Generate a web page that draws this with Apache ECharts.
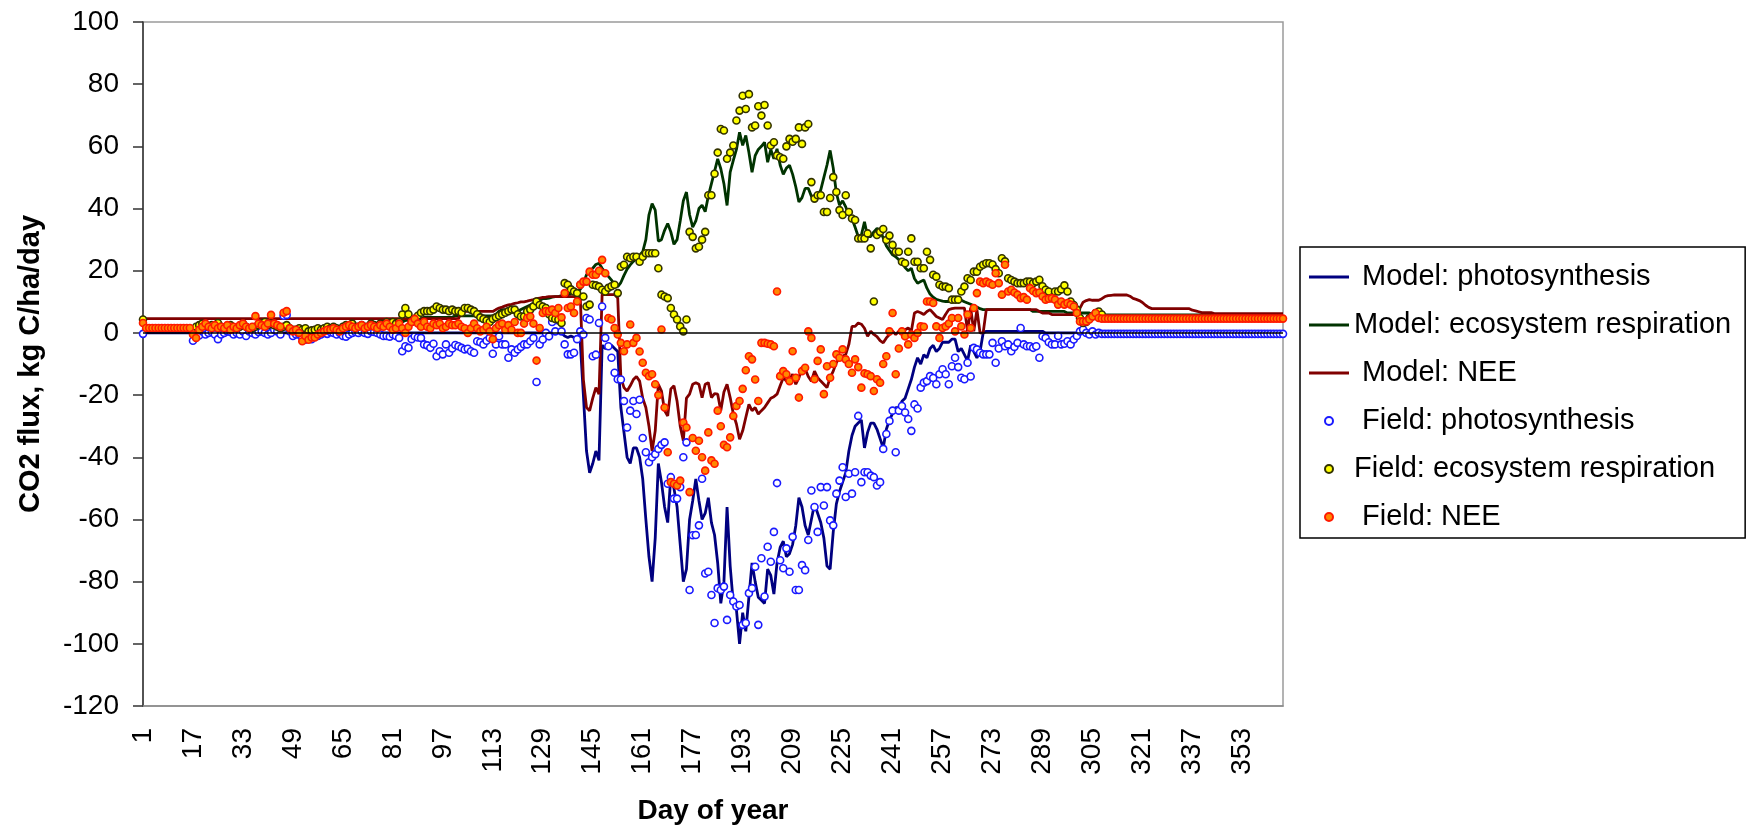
<!DOCTYPE html>
<html>
<head>
<meta charset="utf-8">
<script src="https://cdn.jsdelivr.net/npm/echarts@6/dist/echarts.min.js"></script>
<style>
    html, body { margin: 0; padding: 0; background: #fff; }
    #chart { width: 1752px; height: 830px; }
</style>
</head>
<body>
<div id="chart"></div>
<script>
// day of year, 1..366
const days = Array.from({ length: 366 }, (_, i) => i + 1);

const yTicks = { min: -120, max: 100, interval: 20 };

// model curves, one value per day
const modelPhoto = [
    0,0,0,0,0,0,0,0,0,0, 0,0,0,0,0,0,0,0,0,0,            // 1-20
    0,0,0,0,0,0,0,0,0,0, 0,0,0,0,0,0,0,0,0,0,            // 21-40
    0,0,0,0,0,0,0,0,0,0, 0,0,0,0,0,0,0,0,0,0,            // 41-60
    0,0,0,0,0,0,0,0,0,0, 0,0,0,0,0,0,0,0,0,0,            // 61-80
    0,0,0,0,0,0,0,0,0,0, 0,0,0,0,0,0,0,0,0,0,            // 81-100
    0,0,0,0,0,0,0,0,0,0, 0,0,0,0,0,0,0,0,0,0,            // 101-120
    0,0,0,0,0,0,0,0,0,0,                                 // 121-130
    0,0,0,0,0,-1,-1.5,-1,-1.5,-2,                        // 131-140
    -3,-20,-38,-45,-42,-38,-41,-4,-5,-5,                 // 141-150
    -4,-5,-6,-24,-32,-40,-42,-37,-37,-40,                // 151-160
    -47,-60,-72,-80,-66,-42,-48,-56,-61,-46,             // 161-170
    -50,-56,-68,-80,-76,-60,-54,-47,-54,-60,             // 171-180
    -58,-53,-61,-65,-74,-87,-80,-56,-75,-87,             // 181-190
    -89,-100,-90,-96,-85,-74,-80,-85,-86,-87,            // 191-200
    -76,-78,-84,-74,-69,-67,-72,-71,-68,-62,             // 201-210
    -53,-56,-62,-65,-60,-55,-58,-61,-66,-75,             // 211-220
    -76,-64,-55,-51,-48,-45,-38,-33,-30,-29,             // 221-230
    -28,-37,-32,-29,-29,-31,-34,-37,-31,-28,             // 231-240
    -26,-24,-24,-22,-21,-18,-15,-11,-8,-10,              // 241-250
    -7,-8,-5,-4,-6,-5,-3,-3,-3,-2,                       // 251-260
    -2,-6,-5,-7,-9,-4,-6,-8,-6,0,                        // 261-270
    0.5,0.5,0.5,0.5,0.5,0.5,0.5,0.5,0.5,0.5,             // 271-280
    0.5,0.5,0.5,0.5,0.5,0.5,0.5,0.5,0.5,0,               // 281-290
    0,0,0,0,0,0,0,0,0,0, 0,0,0,0,0,0,0,0,0,0,            // 291-310
    0,0,0,0,0,0,0,0,0,0, 0,0,0,0,0,0,0,0,0,0,            // 311-330
    0,0,0,0,0,0,0,0,0,0, 0,0,0,0,0,0,0,0,0,0,            // 331-350
    0,0,0,0,0,0,0,0,0,0, 0,0,0,0,0,0                     // 351-366
];

const modelResp = [
    1,1,1,1,1,1,1,1,1,1,                                 // 1-10
    1,1,1,1,1,1,1.5,2,2,2.5,                             // 11-20
    2.5,2,2,2,2.5,2,2,1.5,2,2,                           // 21-30
    2,2,2.5,2,2,1.5,2,2,2.5,2.5,                         // 31-40
    2.5,2.5,2,2,2,1.5,1.5,1.5,1.5,1.5,                   // 41-50
    1,1,1,1,1,1,1,1.5,1.5,1.5,                           // 51-60
    1.5,1.5,1.5,1.5,1.5,2,2,2,2,2,                       // 61-70
    2,2,2,2,2,2.5,2.5,2.5,2.5,2.5,                       // 71-80
    2.5,3,3,3.5,4,4,4,4.5,4.5,4.5,                       // 81-90
    5,5,5,5,5,5,5,5,5,5,                                 // 91-100
    5.5,5.5,5.5,5.5,5.5,5.5,5.5,5.5,5.5,5.5,             // 101-110
    5.5,5.5,5.5,6,7,7.5,7.5,7,7,6.5,                     // 111-120
    7,7.5,8,8.5,9,9.5,10,10.5,11,11,                     // 121-130
    11.2,11.5,11.7,11.7,12,12,12.3,12.5,13,13.3,         // 131-140
    14,16,18.7,20,20.8,22,22.4,20.8,19.5,18.2,           // 141-150
    17,15.5,14.9,16.2,18.5,20.5,21.9,23,24,25,           // 151-160
    26.1,30,38,41.6,39.5,29.5,30,33,35.2,32.5,           // 161-170
    28.5,30,36,42.5,45.3,38,34,36,40,41.1,               // 171-180
    39,44,48,52,56,52.8,48,41,51.7,55.5,                 // 181-190
    59,64.5,60.3,63.5,58,51.7,57,59,60,61.3,             // 191-200
    54.9,59,56,59.2,54,51,53,53.9,51,47,                 // 201-210
    42.1,43.5,46.5,46.5,44,42.5,44,46,50,54,             // 211-220
    58.7,53,45,41.1,42.5,40.5,38,36.8,34,31,             // 221-230
    31.5,35.7,31,31,32.5,33.6,33,30.5,28,26.5,           // 231-240
    25.1,24.5,23.5,22.9,21,20,20.8,17.5,16,16.5,         // 241-250
    17,14.4,12.5,11.5,10.8,10.5,10.2,10.1,10.1,10.1,     // 251-260
    10.3,10.6,10.5,10,9.6,9.2,8.7,8.3,7.8,7.5,           // 261-270
    7.5,7.5,7.5,7.5,7.5,7.5,7.5,7.5,7.5,7.5,             // 271-280
    7.5,7.5,7.5,7.5,7.5,6.9,6.9,6.9,6.9,6.9,             // 281-290
    6.9,6.9,6.9,6.9,6.9,6.9,6.4,6.4,6.4,6.4,             // 291-300
    6.4,6.4,6.4,6.4,5.8,5.8,5.8,5.8,5.8,5.8,             // 301-310
    5.8,5.8,5.8,5.8,5.8,5.8,5.8,5.8,5.8,5.8,             // 311-320
    5.8,5.8,5.8,5.8,5.8,5.8,5.8,5.8,5.8,5.8,             // 321-330
    5.8,5.8,5.8,5.8,5.8,5.8,5.8,5.8,5.8,5.8,             // 331-340
    5.8,5.8,5.8,5.8,5.8,5.8,5.8,5.8,5.8,5.8,             // 341-350
    5.8,5.8,5.8,5.8,5.8,5.8,5.8,5.8,5.8,5.8,             // 351-360
    5.8,5.8,5.8,5.8,5.8,5.8                              // 361-366
];

const modelNee = [
    4.6,4.6,4.6,4.6,4.6,4.6,4.6,4.6,4.6,4.6,             // 1-10
    4.6,4.6,4.6,4.6,4.6,4.6,4.6,4.6,4.6,4.6,             // 11-20
    4.6,4.6,4.6,4.6,4.6,4.6,4.6,4.6,4.6,4.6,             // 21-30
    4.6,4.6,4.6,4.6,4.6,4.6,4.6,4.6,4.6,4.6,             // 31-40
    4.6,4.6,4.6,4.6,4.6,4.6,4.6,4.6,4.6,4.6,             // 41-50
    4.6,4.6,4.6,4.6,4.6,4.6,4.6,4.6,4.6,4.6,             // 51-60
    4.6,4.6,4.6,4.6,4.6,4.6,4.6,4.6,4.6,4.6,             // 61-70
    4.6,4.6,4.6,4.6,4.6,4.6,4.6,4.6,4.6,4.6,             // 71-80
    4.6,4.6,4.6,4.6,4.6,4.6,4.6,4.6,4.6,4.6,             // 81-90
    4.6,4.6,4.6,4.6,4.6,4.6,4.6,4.6,4.6,4.6,             // 91-100
    4.6,4.6,6.9,6.9,6.9,6.9,6.9,6.9,6.9,6.9,             // 101-110
    6.9,6.9,6.9,7.5,8,8.3,8.7,9,9.2,9.5,                 // 111-120
    9.7,10,10,10.2,10.5,10.7,11,11.2,11.4,11.5,          // 121-130
    11.7,11.7,11.7,11.7,11.7,11.7,11.7,11.7,11.7,11.5,   // 131-140
    11.7,-15,-24,-25,-21,-17.6,-19.7,12.3,12.3,12.3,     // 141-150
    12.3,12.3,11.2,-14.4,-17.6,-18.7,-17,-15,-14,-15.5,  // 151-160
    -21,-24,-30,-38,-31.5,-16.5,-18.7,-25,-26.7,-18,     // 161-170
    -17,-22,-30,-34.7,-21,-19.7,-16.5,-16,-16.5,-20.8,   // 171-180
    -16.5,-16,-20.8,-19.5,-19.7,-25,-19,-16.5,-20.8,-26, // 181-190
    -29.3,-34.2,-31.5,-27.2,-23,-25,-24,-26.1,-25,-24,   // 191-200
    -22.5,-21,-20.5,-19.7,-17,-14.4,-15.5,-15,-13.3,-16.5, // 201-210
    -14.5,-11,-11.5,-14,-15.5,-12.3,-14.4,-15.5,-16.5,-17.6, // 211-220
    -14.4,-12.3,-9.5,-8.2,-7.5,-6.9,-3.7,2.1,2.1,3.2,    // 221-230
    2.8,1.5,-1.1,0.5,-0.5,-1.2,-2.5,-3.2,-1.6,-0.5,      // 231-240
    0.5,-0.5,0.5,0.5,1,1.6,0.5,6.4,6.9,6.5,              // 241-250
    5.9,6.9,7.5,6.4,5.3,4.8,4.3,6,7.5,7.8,               // 251-260
    8,8,8,8,0.5,8,0.5,7.5,0,0,                           // 261-270
    7.5,7.5,7.5,7.5,7.5,7.5,7.5,7.5,7.5,7.5,             // 271-280
    7.5,7.5,7.5,7.5,7.5,7.5,7.5,6.9,6.4,6.4,             // 281-290
    6.4,5.9,5.9,5.9,5.9,5.9,5.9,5.9,5.9,5.9,             // 291-300
    8,9.9,10.4,10.7,10.5,10.5,10.5,11,11.7,12,           // 301-310
    12.1,12.2,12.2,12.2,12.2,12.2,11.8,11.1,10.8,10.4,   // 311-320
    9.8,8.9,8.2,7.8,7.8,7.8,7.8,7.8,7.8,7.8,             // 321-330
    7.8,7.8,7.8,7.8,7.8,7.8,7.3,7.1,6.8,6.5,             // 331-340
    6.5,6.5,6.5,6.2,6.2,6.2,6.2,6.2,6.2,6.2,             // 341-350
    6.2,6.2,6.2,6.2,6.2,6.2,6.2,6.2,6.2,6.2,             // 351-360
    6.2,6.2,6.2,6.2,6.2,6.2                              // 361-366
];

// field measurements (null = no point drawn)
const fieldPhoto = [
    -0.3,null,null,null,null,null,null,null,null,null,   // 1-10
    null,null,null,null,null,null,-2.5,-1.5,-0.8,0.5,    // 11-20
    -0.5,0,0.3,-0.5,-2,-0.5,0,0.5,0.3,-0.5,              // 21-30
    0,-0.5,0.5,-1,0.5,0,-0.5,0.3,0.5,0,                  // 31-40
    -0.5,0,1,0.5,-0.5,5.5,5.8,0.5,-1,-0.5,               // 41-50
    -0.5,-1.6,-2.2,-1.5,-2,-1.2,-1,-0.5,0,-0.3,          // 51-60
    0.3,0,-0.5,0,-1,-1.2,-0.5,0,0.3,0,                   // 61-70
    0.5,0,-0.3,0.5,0.3,0,-0.5,-1,-1,-1.2,                // 71-80
    -0.5,-1,-1.6,-5.9,-4.3,-4.8,-2,-1.1,-1.5,-1.6,       // 81-90
    -3.7,-4,-4.8,-3.5,-7.5,-5.9,-6.9,-3.7,-6.4,-5,       // 91-100
    -3.9,-4.3,-4.8,-5.3,-5.1,-5.9,-6.4,-2.7,-3,-3.7,     // 101-110
    -2.5,-1.6,-6.7,-3.7,-1.1,-3.7,-3.7,-8,-5.3,-6.4,     // 111-120
    -5.3,-4.5,-3.7,-3.7,-2.7,-1.6,-15.8,-3.7,-2.1,0,     // 121-130
    -1.1,3.5,0.5,4,0.5,-3.7,-6.9,-6.9,-6.4,-2,           // 131-140
    0.5,-0.5,4.8,4.3,-7.5,-7,3.2,8.5,-1.6,-4.3,          // 141-150
    -8,-12.8,-14.9,-15,-21.9,-30.4,-25,-21.9,-26.1,-21.5, // 151-160
    -33.8,-38.4,-41.6,-40,-39,-37.3,-36,-35.2,-48.5,-46.4, // 161-170
    -53.3,-53.3,-49.6,-40,-35.2,-82.7,-65.1,-65,-61.9,-46.9, // 171-180
    -77.4,-76.8,-84.3,-93.3,-82.1,-82.7,-81.6,-92.3,-84.3,-86.4, // 181-190
    -88,-87.5,-93.9,-93.3,-83.7,-82.1,-75.2,-93.9,-72.5,-84.8, // 191-200
    -68.8,-73.6,-64,-48.3,-73.1,-75.7,-69.3,-76.8,-65.6,-82.7, // 201-210
    -82.7,-74.7,-76.3,-66.6,-50.7,-56,-64,-49.6,-55.5,-49.6, // 211-220
    -60.3,-61.9,-51.7,-47.5,-43.2,-52.8,-45.3,-51.7,-44.8,-26.7, // 221-230
    -48,-44.8,-44.8,-45.9,-46.4,-49.1,-48,-37.3,-32.5,-28.3, // 231-240
    -25,-38.4,-25,-23.5,-25.6,-27.7,-31.5,-23,-24.3,-17.6, // 241-250
    -16,-15.5,-13.9,-14.5,-16.5,-13.3,-11.7,-13.3,-16.5,-10.7, // 251-260
    -8,-11,-14.4,-14.9,-9.6,-14,-4.8,-5.3,-6.4,-6.9,     // 261-270
    -6.9,-6.9,-3.2,-9.6,-5,-2.7,-4.3,-3.7,-5.9,-4.5,     // 271-280
    -3.2,1.6,-3.7,-4.3,-4.3,-4.8,-4.3,-8,-1.1,-1.6,      // 281-290
    -3,-3.7,-3.7,-1,-3.7,-3.5,-2.7,-3.7,-2.1,-1,         // 291-300
    0.5,1.1,0,-0.5,0.5,-0.5,0,-0.3,-0.3,-0.3,            // 301-310
    -0.3,-0.3,-0.3,-0.3,-0.3,-0.3,-0.3,-0.3,-0.3,-0.3,   // 311-320
    -0.3,-0.3,-0.3,-0.3,-0.3,-0.3,-0.3,-0.3,-0.3,-0.3,   // 321-330
    -0.3,-0.3,-0.3,-0.3,-0.3,-0.3,-0.3,-0.3,-0.3,-0.3,   // 331-340
    -0.3,-0.3,-0.3,-0.3,-0.3,-0.3,-0.3,-0.3,-0.3,-0.3,   // 341-350
    -0.3,-0.3,-0.3,-0.3,-0.3,-0.3,-0.3,-0.3,-0.3,-0.3,   // 351-360
    -0.3,-0.3,-0.3,-0.3,-0.3,-0.3                        // 361-366
];

const fieldResp = [
    4.3,null,null,null,null,null,null,null,null,null,    // 1-10
    null,null,null,null,null,null,0.5,2,2.5,3,           // 11-20
    2.5,2,2.5,2,3.2,2,1.5,2,2.5,1.5,                     // 21-30
    1.5,2,3,2,1.5,1.5,2,2.5,3,3.5,                       // 31-40
    2.5,3,2.5,2,1.5,2,2.5,1.5,1,1,                       // 41-50
    1.5,1,1.5,0.5,0.8,1,1.5,1,1.5,2,                     // 51-60
    1.5,2,1.5,1,2,2.5,2,3,2,2,                           // 61-70
    2.5,2,2,3,2.5,2,3,2.5,3.5,3,                         // 71-80
    3.5,3,3.5,5.9,8,6,3.5,4.5,5.5,6.5,                   // 81-90
    7,7,7,7.5,8.5,8,7.5,7.5,7,7.5,                       // 91-100
    7,7,6.5,8,8,7.5,7,6,5,4.5,                           // 101-110
    4,3.5,4.5,5,5.5,6,6.5,7,7.5,7.5,                     // 111-120
    6,5.3,5.3,6.9,7.5,8.5,10.1,9,8.5,8,                  // 121-130
    6,4.8,4.5,4.3,3.2,16,15.5,14,13.3,12.8,              // 131-140
    15.5,11.7,8.5,9.1,15.5,15.3,14.9,13.9,13.3,14.5,     // 141-150
    15,15.5,12.8,21.3,21.9,24.5,24,24.5,24.5,22.9,       // 151-160
    24.5,25.6,25.6,25.6,25.6,20.8,12.3,11.7,11.2,8,      // 161-170
    5.9,4.3,2.1,0.5,4.3,32.5,30.9,27.2,27.7,30,          // 171-180
    32.5,44.3,44.3,51.2,58,65.6,65.1,56,58,60.3,         // 181-190
    68.3,71.5,76.3,72,76.8,66.1,66.7,72.9,69.9,73.3,     // 191-200
    66.7,60.3,61.3,57.1,56.5,56,60,62.4,61.5,62.4,       // 201-210
    66.1,60.8,66.1,67.2,48.5,43.2,44.3,44.3,38.9,38.9,   // 211-220
    43.4,50.1,45.3,39.5,37.9,44.3,38.9,36.8,36.3,30.4,   // 221-230
    30.4,30.4,32,27.2,10.1,31.5,32.5,33.4,29.9,31.3,     // 231-240
    28.3,26.1,26.1,22.9,22.4,26.1,30.4,22.9,22.9,20.8,   // 241-250
    20.8,26.1,23.5,18.7,18.1,15.5,14.9,14.9,14.4,10.7,   // 251-260
    10.7,10.7,13.3,14.9,17.6,17,19.7,19.7,21.3,21.9,     // 261-270
    22.4,22.4,22,20.5,19.2,24,23,17.6,17,16.5,           // 271-280
    16,16,16,16.5,16.5,16,16.5,17.1,15,13.9,             // 281-290
    13.3,11.2,13.3,13.3,14,15.3,13.3,10.1,9,7.5,         // 291-300
    4.8,3.2,3.5,4.8,5.3,6.4,6.9,5.9,null,null,           // 301-310
    null,null,null,null,null,null,null,null,null,null,   // 311-320
    null,null,null,null,null,null,null,null,null,null,   // 321-330
    null,null,null,null,null,null,null,null,null,null,   // 331-340
    null,null,null,null,null,null,null,null,null,null,   // 341-350
    null,null,null,null,null,null,null,null,null,null,   // 351-360
    null,null,null,null,null,null                        // 361-366
];

const fieldNee = [
    3.2,1.6,1.6,1.6,1.6,1.6,1.6,1.6,1.6,1.6,             // 1-10
    1.6,1.6,1.6,1.6,1.6,1.6,-0.5,-1.6,1,2,               // 11-20
    3,2,1.5,2.5,1.5,2,1.5,2.5,1,2,                       // 21-30
    1.5,2.5,3,2,1.5,2,5.4,3,2.5,2,                       // 31-40
    3,5.8,3,2.5,2,6.5,7,1.5,0.5,1,                       // 41-50
    0,-2.7,-1,-2.2,-1.5,-1.5,-0.5,0,0.5,1,               // 51-60
    1,1.5,1,0.5,1.5,2,2.5,2,1.5,2,                       // 61-70
    2.5,1.5,2,2.5,2,1.5,2.5,2,3,2,                       // 71-80
    1,1.5,3,1.5,0,2,3.5,4.5,3,2,                         // 81-90
    3.5,2,1.5,3,2.5,3,1.5,2,3,2.5,                       // 91-100
    2.5,3,2,1.5,0,1.5,3,1.5,0.5,1,                       // 101-110
    2,0.5,-2,1.5,2.5,3,1,2.5,1,3.5,                      // 111-120
    0,0,3,4.8,5.3,3,-8.9,1.6,6.4,7,                      // 121-130
    6.9,7.5,6.4,8,5,12.8,8,8.5,6.4,10.1,                 // 131-140
    15.5,16.5,16.5,19.7,18.7,18.7,20,23.5,19.2,4.8,      // 141-150
    4.3,1.6,-0.5,-3.2,-5.9,-3.7,2.7,-3.2,-1.6,-6,        // 151-160
    -9.6,-12.8,-13.9,-13.3,-16.5,-20,1.1,-24,-38.4,-48,  // 161-170
    -48.5,-49.1,-47.5,-28.8,-30.4,-51.2,-33.8,-37.9,-34.7,-40, // 171-180
    -44.3,-32,-41,-42.1,-25,-30,-36,-36.8,-33.6,-26.7,   // 181-190
    -23.5,-21.9,-18,-12,-7.5,-8.5,-15,-21.9,-3.2,-3.2,   // 191-200
    -3.5,-3.7,-4.3,13.3,-13.9,-12.3,-13.3,-15.5,-5.9,-14.4, // 201-210
    -20.8,-12.3,-11.2,0.5,-1.6,-14.9,-9,-5.3,-19.7,-10.7, // 211-220
    -14.4,-10,-6.9,-8,-5.3,-8.5,-10,-12.8,-8.5,-11,      // 221-230
    -17.6,-13,-13.3,-13.9,-18.7,-14.9,-16,-10,-7.5,0.5,  // 231-240
    6.4,-13.3,-5,0.5,-1.1,-3.7,-0.5,-1.6,0,2.1,          // 241-250
    2,10.1,10.1,9.6,2.1,-1.6,1.6,2.1,3,4.8,              // 251-260
    0.5,4.8,2.1,-0.5,5.9,1.6,8,12.8,16.5,16,             // 261-270
    16.5,16,15.5,19.2,16,12.3,21.9,13.3,13.9,13,         // 271-280
    12.3,11.2,11.5,10.7,14.4,13.5,12.8,13,11.7,10.7,     // 281-290
    11,11.2,10.7,9.1,10.1,9.1,9.6,9.1,8.5,6.4,           // 291-300
    3.7,3.7,3.7,4.3,5.3,6.4,4.8,4.6,4.6,4.6,             // 301-310
    4.6,4.6,4.6,4.6,4.6,4.6,4.6,4.6,4.6,4.6,             // 311-320
    4.6,4.6,4.6,4.6,4.6,4.6,4.6,4.6,4.6,4.6,             // 321-330
    4.6,4.6,4.6,4.6,4.6,4.6,4.6,4.6,4.6,4.6,             // 331-340
    4.6,4.6,4.6,4.6,4.6,4.6,4.6,4.6,4.6,4.6,             // 341-350
    4.6,4.6,4.6,4.6,4.6,4.6,4.6,4.6,4.6,4.6,             // 351-360
    4.6,4.6,4.6,4.6,4.6,4.6                              // 361-366
];

const seriesNames = [
    ' Model: photosynthesis',
    'Model: ecosystem respiration',
    ' Model: NEE',
    ' Field: photosynthesis',
    'Field: ecosystem respiration',
    ' Field: NEE',
];

const font = "'Liberation Sans', Arial, sans-serif";
const lineIcon = 'path://M0,0H40V3H0Z';

const chart = echarts.init(document.getElementById('chart'));

const modelLine = (name, data, color) => ({
    name,
    type: 'line',
    data,
    symbol: 'none',
    showSymbol: false,
    lineStyle: { color, width: 2.8 },
    itemStyle: { color },
    z: 2,
});

const fieldDots = (name, data, fill, border) => ({
    name,
    type: 'scatter',
    data,
    symbol: 'circle',
    symbolSize: 7,
    itemStyle: { color: fill, borderColor: border, borderWidth: 1.6, opacity: 1 },
    z: 3,
});

const option = {
    animation: false,
    backgroundColor: '#fff',
    textStyle: { fontFamily: font },
    grid: {
        left: 143,
        top: 22,
        right: 469,
        bottom: 121,
        show: true,
        borderColor: '#9a9a9a',
        borderWidth: 1.5,
        backgroundColor: '#fff',
    },
    legend: {
        orient: 'vertical',
        left: 1300,
        top: 247,
        padding: [15, 14, 6, 9],
        itemGap: 18,
        itemWidth: 40,
        itemHeight: 8,
        itemTextGap: 6,
        borderColor: '#000',
        borderWidth: 1.5,
        data: [
            { name: seriesNames[0], icon: lineIcon },
            { name: seriesNames[1], icon: lineIcon },
            { name: seriesNames[2], icon: lineIcon },
            { name: seriesNames[3], icon: 'circle' },
            { name: seriesNames[4], icon: 'circle' },
            { name: seriesNames[5], icon: 'circle' },
        ],
        textStyle: { fontSize: 29, color: '#000', fontFamily: font, lineHeight: 30 },
    },
    xAxis: {
        type: 'category',
        data: days,
        boundaryGap: false,
        name: 'Day of year',
        nameLocation: 'middle',
        nameGap: 91,
        nameTextStyle: { fontSize: 28, fontWeight: 'bold', color: '#000', fontFamily: font },
        axisLine: { onZero: false, lineStyle: { color: '#8a8a8a', width: 1.5 } },
        axisTick: { show: false },
        axisLabel: {
            interval: 15,
            rotate: 90,
            margin: 22,
            fontSize: 28,
            color: '#000',
            fontFamily: font,
        },
        splitLine: { show: false },
    },
    yAxis: {
        type: 'value',
        min: yTicks.min,
        max: yTicks.max,
        interval: yTicks.interval,
        name: 'CO2 flux, kg C/ha/day',
        nameLocation: 'middle',
        nameGap: 98,
        nameTextStyle: { fontSize: 29, fontWeight: 'bold', color: '#000', fontFamily: font },
        axisLine: { show: true, lineStyle: { color: '#333', width: 1.5 } },
        axisTick: { show: true, length: 10, lineStyle: { color: '#333', width: 1.5 } },
        axisLabel: { margin: 24, fontSize: 28, color: '#000', fontFamily: font },
        splitLine: { show: false },
    },
    series: [
        {
            ...modelLine(seriesNames[0], modelPhoto, '#000080'),
            markLine: {
                silent: true,
                symbol: ['none', 'none'],
                label: { show: false },
                lineStyle: { color: '#000', width: 1.5, type: 'solid' },
                data: [{ yAxis: 0 }],
            },
        },
        modelLine(seriesNames[1], modelResp, '#003300'),
        modelLine(seriesNames[2], modelNee, '#800000'),
        fieldDots(seriesNames[3], fieldPhoto, '#ffffff', '#1a1aff'),
        fieldDots(seriesNames[4], fieldResp, '#ffff00', '#333300'),
        fieldDots(seriesNames[5], fieldNee, '#ff8800', '#ff1a00'),
    ],
};

chart.setOption(option);
</script>
</body>
</html>
